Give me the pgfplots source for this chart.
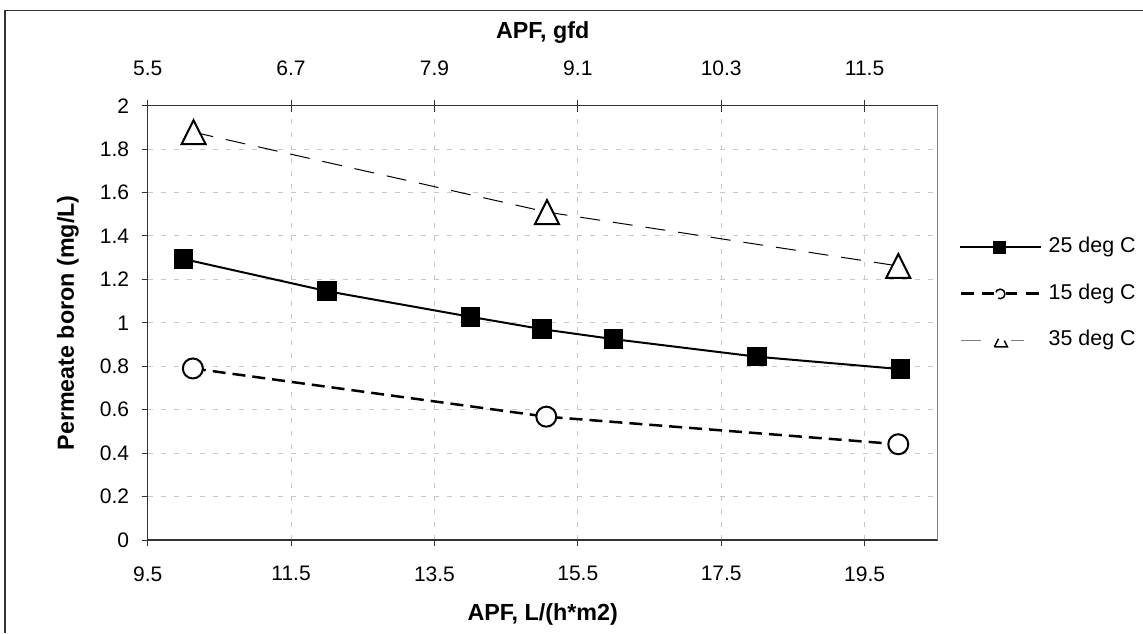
\documentclass[border=0pt]{standalone}
\usepackage{pgfplots}
\pgfplotsset{compat=1.18}
\usepackage{fontspec}
\setmainfont{Liberation Sans}
\definecolor{gridc}{HTML}{C8C8C8}
\definecolor{axc}{HTML}{333333}
\begin{document}
\begin{tikzpicture}
\pgfplotsset{
  every axis/.append style={font=\fontsize{21}{25}\selectfont},
  /pgf/number format/assume math mode=true,
}
\begin{axis}[
  at={(147.7pt,93pt)}, anchor=south west,
  scale only axis, width=790pt, height=434.3pt,
  xmin=9.5, xmax=20.52, ymin=0, ymax=2,
  axis x line*=bottom, axis y line*=left,
  axis line style={axc, line width=1.5pt},
  xtick={9.5,11.5,13.5,15.5,17.5,19.5},
  ytick={0,0.2,0.4,0.6,0.8,1,1.2,1.4,1.6,1.8,2},
  xticklabels={9.5,11.5,13.5,15.5,17.5,19.5},
  yticklabels={0,0.2,0.4,0.6,0.8,1,1.2,1.4,1.6,1.8,2},
  tick align=outside, major tick length=6pt,
  tick style={axc, line width=1pt},
  xmajorgrids, ymajorgrids,
  grid style={gridc, line width=1pt, dash pattern=on 5pt off 8pt},
  xticklabel style={anchor=north, yshift=-17pt},
  yticklabel style={anchor=east, xshift=-9pt},
  xlabel={\bfseries APF, L/(h*m2)},
  xlabel style={font=\fontsize{23.3}{26}\selectfont, at={(axis description cs:0.5,-0.186)}, anchor=base},
  ylabel={\bfseries Permeate boron (mg/L)},
  ylabel style={font=\fontsize{23.3}{26}\selectfont, at={(axis description cs:-0.1009,0.5)}, anchor=center},
  legend style={draw=none, fill=none, inner sep=0pt, at={(axis description cs:1.027,0.6972)}, anchor=north west,
    font=\fontsize{21.4}{25}\selectfont,
    nodes={inner sep=0pt, text height=15.5pt, text depth=4.5pt}, row sep=26.5pt, column sep=6pt},
  legend cell align=left,
  clip=false,
]
\addplot[black, line width=2pt, mark=square*, mark size=9pt, mark options={solid, line width=1.5pt},
  legend image code/.code={
    \draw[black,line width=2pt] (0pt,0pt) -- (81pt,0pt);
    \fill[black] (34.2pt,-5.5pt) rectangle (45.2pt,5.5pt);
  }]
  coordinates {(10,1.294)(12,1.146)(14,1.028)(15,0.971)(16,0.925)(18,0.844)(20,0.787)};
\addlegendentry{25 deg C}
\addplot[black, line width=2.5pt, dash pattern=on 13pt off 7pt, mark=*, mark size=10pt,
  mark options={solid, fill=white, draw=black, line width=2pt},
  legend image code/.code={
    \draw[black,line width=3pt] (0.7pt,0pt) -- (14pt,0pt);
    \draw[black,line width=3pt] (22pt,0pt) -- (34pt,0pt);
    \draw[black,line width=3pt] (46pt,0pt) -- (57pt,0pt);
    \draw[black,line width=3pt] (66pt,0pt) -- (81pt,0pt);
    \draw[black,line width=1.5pt,fill=white] (40pt,0pt) circle (4.8pt);
  }]
  coordinates {(10.13,0.790)(15.06,0.568)(19.97,0.441)};
\addlegendentry{15 deg C}
\addplot[black, line width=1pt, dash pattern=on 20pt off 13pt, mark=triangle*, mark size=13.9pt,
  mark options={solid, fill=white, draw=black, line width=2pt, yscale=1.15, yshift=-3.5pt},
  legend image code/.code={
    \draw[gray,line width=1pt] (0.7pt,0pt) -- (24pt,0pt);
    \draw[gray,line width=1pt] (50.7pt,0pt) -- (64pt,0pt);
    \draw[black,line width=1.5pt,fill=white] (34.2pt,-6.5pt) -- (47.2pt,-6.5pt) -- (40.7pt,6.5pt) -- cycle;
  }]
  coordinates {(10.14,1.878)(15.07,1.510)(19.97,1.262)};
\addlegendentry{35 deg C}
\end{axis}
\begin{axis}[
  at={(147.7pt,93pt)}, anchor=south west,
  scale only axis, width=790pt, height=434.3pt,
  xmin=9.5, xmax=20.52, ymin=0, ymax=2,
  axis x line*=top, axis y line*=right,
  x axis line style={axc, line width=1.5pt},
  y axis line style={gray, line width=1pt},
  ytick=\empty,
  xtick={9.5,11.5,13.5,15.5,17.5,19.5},
  xticklabels={5.5,6.7,7.9,9.1,10.3,11.5},
  tick align=center, major tick length=12pt,
  tick style={axc, line width=1pt},
  xticklabel style={anchor=south, yshift=20pt},
  xlabel={\bfseries APF, gfd},
  xlabel style={font=\fontsize{23.3}{26}\selectfont, at={(axis description cs:0.5,1.154)}, anchor=base},
]
\end{axis}
\draw[axc, line width=1.5pt] (5pt,0pt) -- (5pt,622.5pt) -- (1143pt,622.5pt);
\pgfresetboundingbox
\useasboundingbox (0pt,0pt) rectangle (1143pt,633pt);
\end{tikzpicture}
\end{document}
